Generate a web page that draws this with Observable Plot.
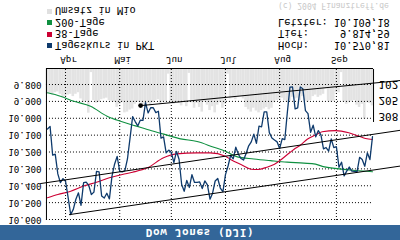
<!DOCTYPE html>
<html lang="de">
<head>
<meta charset="utf-8">
<script src="https://cdn.jsdelivr.net/npm/d3@7"></script>
<script src="https://cdn.jsdelivr.net/npm/@observablehq/plot@0.6"></script>
<style>
  html, body { margin:0; padding:0; background:#fff; }
  #wrap { position:relative; width:400px; height:240px; overflow:hidden; background:#fff;
          transform:scaleY(-1); transform-origin:50% 50%;
          font-family:"DejaVu Sans Mono","Liberation Mono",monospace; color:#000; }
  #chart { position:absolute; left:0; top:0; }
  #title { position:absolute; left:0; top:0; width:400px; height:15px; background:#336699; color:#fff;
           font-weight:bold; font-size:11px; line-height:15px; text-align:center; letter-spacing:0.6px; }
  .row { position:absolute; font-size:10.3px; line-height:12px; height:12px; white-space:pre; }
  .sw { position:absolute; width:5px; height:5px; }
  #copy { position:absolute; left:278px; top:230px; font-size:8px; line-height:9px; color:#c8c8c8; white-space:pre; }
</style>
</head>
<body>
<div id="wrap">
  <div id="chart"></div>
  <div id="title"></div>
  <div id="copy"></div>
</div>
<script>
// ---------- data ----------
const dates = ["2004-03-23","2004-03-24","2004-03-25","2004-03-26","2004-03-29","2004-03-30","2004-03-31",
"2004-04-01","2004-04-02","2004-04-05","2004-04-06","2004-04-07","2004-04-08","2004-04-12","2004-04-13","2004-04-14","2004-04-15","2004-04-16","2004-04-19","2004-04-20","2004-04-21","2004-04-22","2004-04-23","2004-04-26","2004-04-27","2004-04-28","2004-04-29","2004-04-30",
"2004-05-03","2004-05-04","2004-05-05","2004-05-06","2004-05-07","2004-05-10","2004-05-11","2004-05-12","2004-05-13","2004-05-14","2004-05-17","2004-05-18","2004-05-19","2004-05-20","2004-05-21","2004-05-24","2004-05-25","2004-05-26","2004-05-27","2004-05-28",
"2004-06-01","2004-06-02","2004-06-03","2004-06-04","2004-06-07","2004-06-08","2004-06-09","2004-06-10","2004-06-14","2004-06-15","2004-06-16","2004-06-17","2004-06-18","2004-06-21","2004-06-22","2004-06-23","2004-06-24","2004-06-25","2004-06-28","2004-06-29","2004-06-30",
"2004-07-01","2004-07-02","2004-07-06","2004-07-07","2004-07-08","2004-07-09","2004-07-12","2004-07-13","2004-07-14","2004-07-15","2004-07-16","2004-07-19","2004-07-20","2004-07-21","2004-07-22","2004-07-23","2004-07-26","2004-07-27","2004-07-28","2004-07-29","2004-07-30",
"2004-08-02","2004-08-03","2004-08-04","2004-08-05","2004-08-06","2004-08-09","2004-08-10","2004-08-11","2004-08-12","2004-08-13","2004-08-16","2004-08-17","2004-08-18","2004-08-19","2004-08-20","2004-08-23","2004-08-24","2004-08-25","2004-08-26","2004-08-27","2004-08-30","2004-08-31",
"2004-09-01","2004-09-02","2004-09-03","2004-09-07","2004-09-08","2004-09-09","2004-09-10","2004-09-13","2004-09-14","2004-09-15","2004-09-16","2004-09-17","2004-09-20","2004-09-21","2004-09-22"];

const kurs = [10063.64,10048.23,10218.82,10212.97,10329.63,10381.70,10357.70,
10373.33,10470.59,10570.81,10540.05,10480.15,10442.03,10515.56,10381.28,10377.95,10397.46,10451.97,10437.85,10314.50,10317.27,10461.20,10472.84,10444.73,10478.16,10342.60,10272.27,10225.57,
10314.00,10317.20,10310.95,10241.26,10117.34,9990.02,10019.47,10045.16,10010.74,10012.87,9906.91,9968.51,9937.71,9937.64,9966.74,9958.43,10117.62,10109.89,10205.20,10188.45,
10202.65,10262.97,10195.91,10242.82,10391.08,10432.52,10368.44,10410.10,10334.73,10380.43,10379.58,10377.52,10416.41,10371.47,10395.07,10479.57,10443.81,10371.84,10357.09,10413.43,10435.48,
10334.16,10282.83,10219.34,10240.29,10171.56,10213.22,10238.22,10247.59,10208.80,10163.16,10139.78,10094.06,10149.07,10046.13,10050.33,9962.22,9961.92,10085.14,10117.07,10129.24,10139.71,
10179.16,10120.24,10126.51,9963.03,9815.33,9814.66,9944.67,9938.32,9814.59,9825.35,9954.55,9972.83,10083.15,10040.82,10110.14,10073.05,10098.63,10181.74,10173.41,10195.01,10122.52,10173.92,
10168.46,10290.28,10260.20,10341.16,10313.36,10289.10,10313.07,10314.76,10318.16,10231.36,10244.49,10284.46,10204.89,10244.93,10109.18];

const umsatz = [160,155,165,150,145,160,180,178,165,160,
 175,160,150,190,215,205,282,20,200,218,
 212,195,190,185,200,205,210,245,225,215,
 280,275,262,255,225,210,215,230,240,220,
 235,215,200,195,225,210,205,30,215,225,
 210,220,235,215,240,25,215,250,220,245,
 275,210,230,265,240,280,230,215,250,225,
 30,190,185,195,180,175,190,245,260,275,
 250,268,280,265,255,245,260,250,215,200,
 195,185,200,210,205,180,190,185,200,175,
 205,210,200,175,165,180,170,160,125,205,
 210,205,150,150,20,210,225,215,205,200,
 230,245,225,320,215,220,235];

const ma38Idx = [0,4,9,14,19,24,29,33,38.7,45,50,58,63,69,71,75,79,81.5,85,88,91,93,95.5,98,100.7,104,106.5,111.7,116.8,120.7,123.3,126];
const ma38    = [10471,10452,10432,10402,10379,10353,10333,10320,10294,10234,10211,10205,10205,10225,10244,10274,10302,10304,10290,10272,10240,10215,10185,10160,10124,10098,10080,10073,10086,10106,10120,10126];

const ma200Idx = [0,5,10.2,16.7,23.1,28.3,34.1,38.7,45.1,51.6,58,64.5,69,73.6,80,86.5,92.9,99.4,103.9,106.5,113,119.4,126];
const ma200    = [9849,9869,9899,9929,9988,10018,10045,10067,10094,10122,10138,10172,10195,10229,10241,10251,10260,10266,10272,10285,10300,10310,10317];

const monthLabels = ["Apr","Mai","Jun","Jul","Aug","Sep"];
const yTicks = [9800,9900,10000,10100,10200,10300,10400,10500,10600];
const volTicks = [102,205,308];
const volMax = 342;

// trend lines: [start, end] in trading-day index and index points
const trendIdx = [[36.1,136.9],[-2.7,136.9],[8.5,136.9]];
const trendVal = [[9925,9776],[10387,10071],[10571,10283]];

const legendLabels = ["Tageskurs in PKT","38-Tage","200-Tage","Umsatz in Mio"];
const legendColors = ["#0e3a6c","#cc0033","#0f9040","#e0e0e0"];
const statLabels = ["Hoch:","Tief:","Letzter:"];
const titleText = "Dow Jones (DJI)";
const copyText = "(c) 2004 Finanztreff.de";

// ---------- build ----------
const de = d3.formatLocale({decimal:",", thousands:".", grouping:[3], currency:["","€"]});
const fmt0 = de.format(",.0f"), fmt2 = de.format(",.2f");
const yMin = 9705, yMax = 10600, volTopY = 10019;
const volY = d3.scaleLinear().domain([0, volMax]).range([yMin, volTopY]);
const n = dates.length, xEnd = n - 1;

const rows = dates.map((d, i) => ({i, d, kurs: kurs[i], vol: umsatz[i]}));
const monthIdx = [];
dates.forEach((d, i) => { if (i > 0 && d.slice(5,7) !== dates[i-1].slice(5,7)) monthIdx.push(i); });
const trendRows = trendIdx.flatMap((xs, k) => xs.map((x, j) => ({k, x, y: trendVal[k][j]})));

const plot = Plot.plot({
  width: 400, height: 240,
  marginLeft: 47, marginRight: 28, marginTop: 20, marginBottom: 69,
  x: {domain: [0, xEnd]},
  y: {domain: [yMin, yMax]},
  style: {fontFamily: "DejaVu Sans Mono", fontSize: "9.2px", color: "#000", background: "transparent", overflow: "visible"},
  marks: [
    Plot.rect(rows, {x1: d => d.i - 0.5, x2: d => d.i + 0.5, y1: () => yMin, y2: d => volY(d.vol), fill: "#e3e3e3"}),
    Plot.ruleY(yTicks, {x1: () => -0.4, x2: () => xEnd, stroke: "#000", strokeDasharray: "1,2"}),
    Plot.ruleX(monthIdx, {y1: () => yMin, y2: () => yMax, stroke: "#000", strokeDasharray: "1,2"}),
    Plot.ruleY([yMin], {x1: () => -0.4, x2: () => xEnd + 0.4, stroke: "#000"}),
    Plot.ruleX([-0.4], {y1: () => yMin, y2: () => yMax, stroke: "#000"}),
    Plot.ruleX([xEnd + 0.4], {y1: () => yMin, y2: () => volTopY, stroke: "#000"}),
    Plot.axisY(yTicks, {anchor: "left", tickSize: 0, tickPadding: 6, tickFormat: fmt0}),
    Plot.axisX(monthIdx, {anchor: "bottom", tickSize: 0, tickPadding: 5, dx: 3,
      tickFormat: i => monthLabels[monthIdx.indexOf(i)]}),
    Plot.text(volTicks, {x: () => xEnd, y: d => volY(d), text: d => String(d), textAnchor: "start", dx: 6, fontSize: 11}),
    Plot.line(ma200Idx, {x: d => d, y: (d, j) => ma200[j], stroke: legendColors[2], strokeWidth: 1.1, curve: "monotone-x"}),
    Plot.line(ma38Idx, {x: d => d, y: (d, j) => ma38[j], stroke: legendColors[1], strokeWidth: 1.1, curve: "monotone-x"}),
    Plot.line(rows, {x: "i", y: "kurs", stroke: legendColors[0], strokeWidth: 1.3}),
    Plot.line(trendRows, {x: "x", y: "y", z: "k", stroke: "#000", strokeWidth: 1}),
    Plot.dot([0], {x: () => trendIdx[0][0], y: () => trendVal[0][0], r: 2.4, fill: "#000"})
  ]
});
document.getElementById("chart").appendChild(plot);

const wrap = document.getElementById("wrap");
document.getElementById("title").textContent = titleText;
document.getElementById("copy").textContent = copyText;

const rowC = [194, 205.5, 217, 228.5];
legendLabels.forEach((lab, k) => {
  const sw = document.createElement("div");
  sw.className = "sw";
  sw.style.left = "47px"; sw.style.top = (rowC[k] - 2.5) + "px"; sw.style.background = legendColors[k];
  wrap.appendChild(sw);
  const t = document.createElement("div");
  t.className = "row";
  t.style.left = "55px"; t.style.top = (rowC[k] - 6) + "px";
  t.textContent = lab;
  wrap.appendChild(t);
});
const statVals = [d3.max(kurs), d3.min(kurs), kurs[n - 1]];
statLabels.forEach((lab, k) => {
  const t = document.createElement("div");
  t.className = "row";
  t.style.left = "278px"; t.style.top = (rowC[k] - 6) + "px";
  t.textContent = lab.padEnd(9) + fmt2(statVals[k]).padStart(9);
  wrap.appendChild(t);
});
</script>
</body>
</html>
